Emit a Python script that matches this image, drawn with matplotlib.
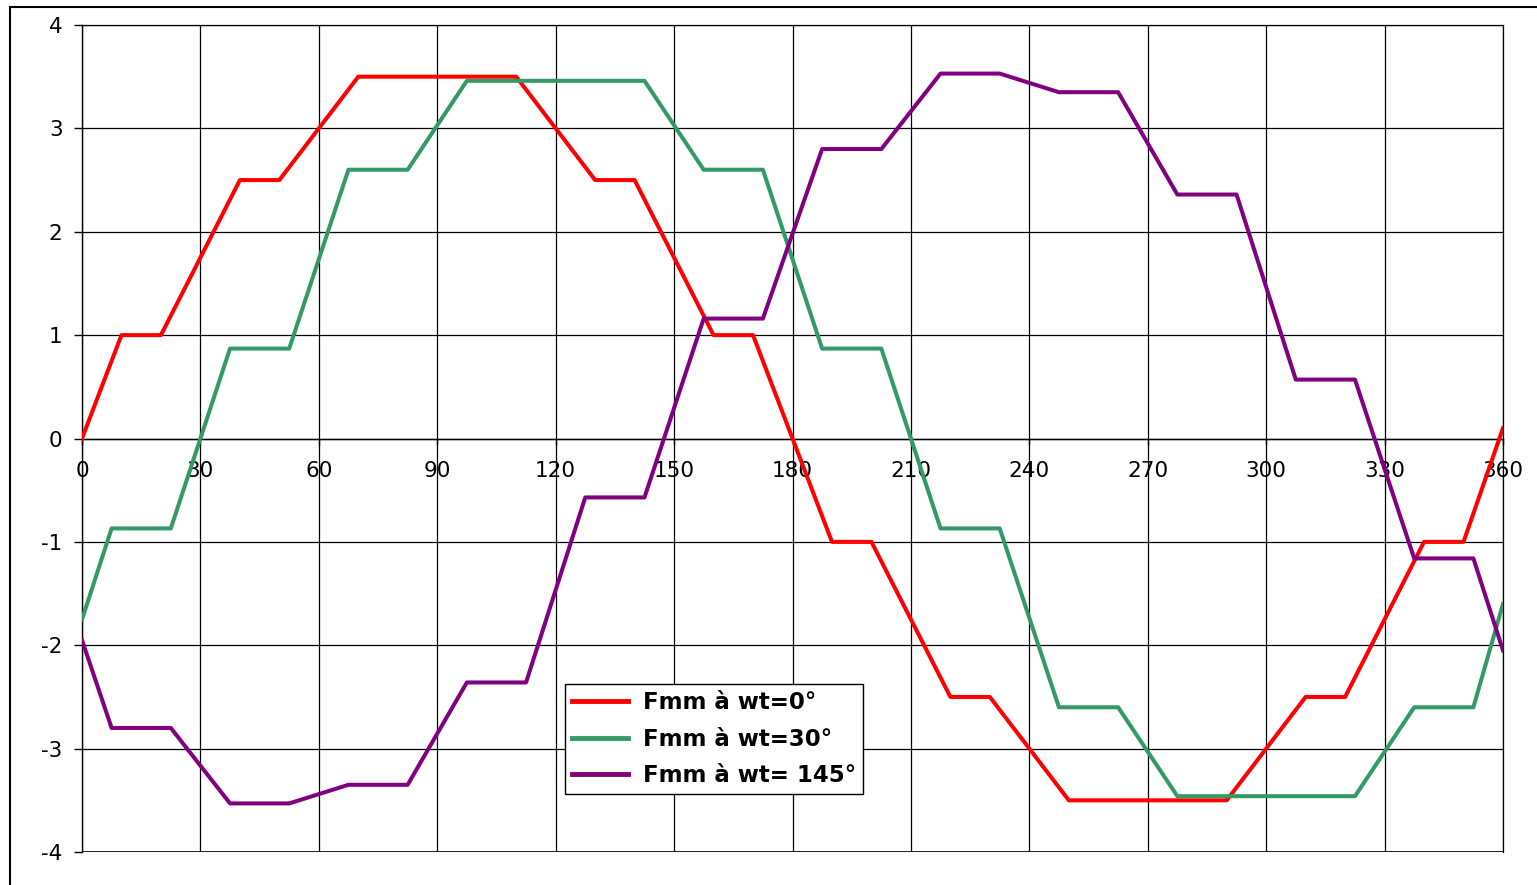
import numpy as np
import matplotlib
matplotlib.use('Agg')
import matplotlib.pyplot as plt
from matplotlib.patches import Rectangle

plt.rcParams['font.family'] = ['DejaVu Sans']
plt.rcParams['axes.unicode_minus'] = False

# angle (deg) / Fmm breakpoints
x_wt0 = [0, 10, 20, 40, 50, 70, 110, 130, 140, 160, 170, 190, 200, 220, 230, 250, 290, 310, 320, 340, 350, 360]
y_wt0 = [0, 1, 1, 2.5, 2.5, 3.5, 3.5, 2.5, 2.5, 1, 1, -1, -1, -2.5, -2.5, -3.5, -3.5, -2.5, -2.5, -1, -1, 0.1]

x_wt30 = [0, 7.5, 22.5, 37.5, 52.5, 67.5, 82.5, 97.5, 142.5, 157.5, 172.5, 187.5, 202.5,
          217.5, 232.5, 247.5, 262.5, 277.5, 322.5, 337.5, 352.5, 360]
y_wt30 = [-1.75, -0.87, -0.87, 0.87, 0.87, 2.6, 2.6, 3.46, 3.46, 2.6, 2.6, 0.87, 0.87,
          -0.87, -0.87, -2.6, -2.6, -3.46, -3.46, -2.6, -2.6, -1.6]

x_wt145 = [0, 7.5, 22.5, 37.5, 52.5, 67.5, 82.5, 97.5, 112.5, 127.5, 142.5, 157.5, 172.5,
           187.5, 202.5, 217.5, 232.5, 247.5, 262.5, 277.5, 292.5, 307.5, 322.5, 337.5, 352.5, 360]
y_wt145 = [-1.95, -2.8, -2.8, -3.53, -3.53, -3.35, -3.35, -2.36, -2.36, -0.57, -0.57, 1.16, 1.16,
           2.8, 2.8, 3.53, 3.53, 3.35, 3.35, 2.36, 2.36, 0.57, 0.57, -1.16, -1.16, -2.05]

labels = ['Fmm à wt=0°', 'Fmm à wt=30°', 'Fmm à wt= 145°']
colors = ['#FF0000', '#339966', '#800080']

W, H = 1537, 885
fig = plt.figure(figsize=(W / 100, H / 100), dpi=100)
fig.patches.append(Rectangle((10 / W, -0.1), 1.2, 1.1 - 7 / H, transform=fig.transFigure,
                             fill=False, edgecolor='black', linewidth=1.5))
ax = fig.add_axes([82 / W, 1 - 852 / H, (1503 - 82) / W, (852 - 25) / H])

for xs, ys, lab, c in zip([x_wt0, x_wt30, x_wt145], [y_wt0, y_wt30, y_wt145], labels, colors):
    ax.plot(xs, ys, color=c, linewidth=2.9, label=lab, zorder=3)

ax.set_xlim(0, 360)
ax.set_ylim(-4, 4)
ax.set_xticks(np.arange(0, 361, 30))
ax.set_yticks(np.arange(-4, 5, 1))
ax.grid(True, color='black', linewidth=0.9)
ax.axhline(-4, color='black', linewidth=1.2, zorder=2)

for s in ['top', 'right']:
    ax.spines[s].set_linewidth(0.9)
ax.spines['left'].set_linewidth(1.0)
ax.spines['bottom'].set_position(('data', 0))
ax.spines['bottom'].set_linewidth(1.0)

ax.tick_params(axis='x', direction='out', length=4, width=1, pad=12, labelsize=15.5)
ax.tick_params(axis='y', direction='out', length=6, width=1, pad=8, labelsize=15.5)

leg = ax.legend(loc='upper left', bbox_to_anchor=(0.340, 0.2031), borderaxespad=0,
                fancybox=False, framealpha=1, edgecolor='black',
                prop={'weight': 'bold', 'size': 16.5},
                handlelength=2.45, handletextpad=0.65, labelspacing=0.6, borderpad=0.3)
leg.get_frame().set_linewidth(1.0)
for line in leg.get_lines():
    line.set_linewidth(3.5)

fig.savefig('out.png', dpi=100)
